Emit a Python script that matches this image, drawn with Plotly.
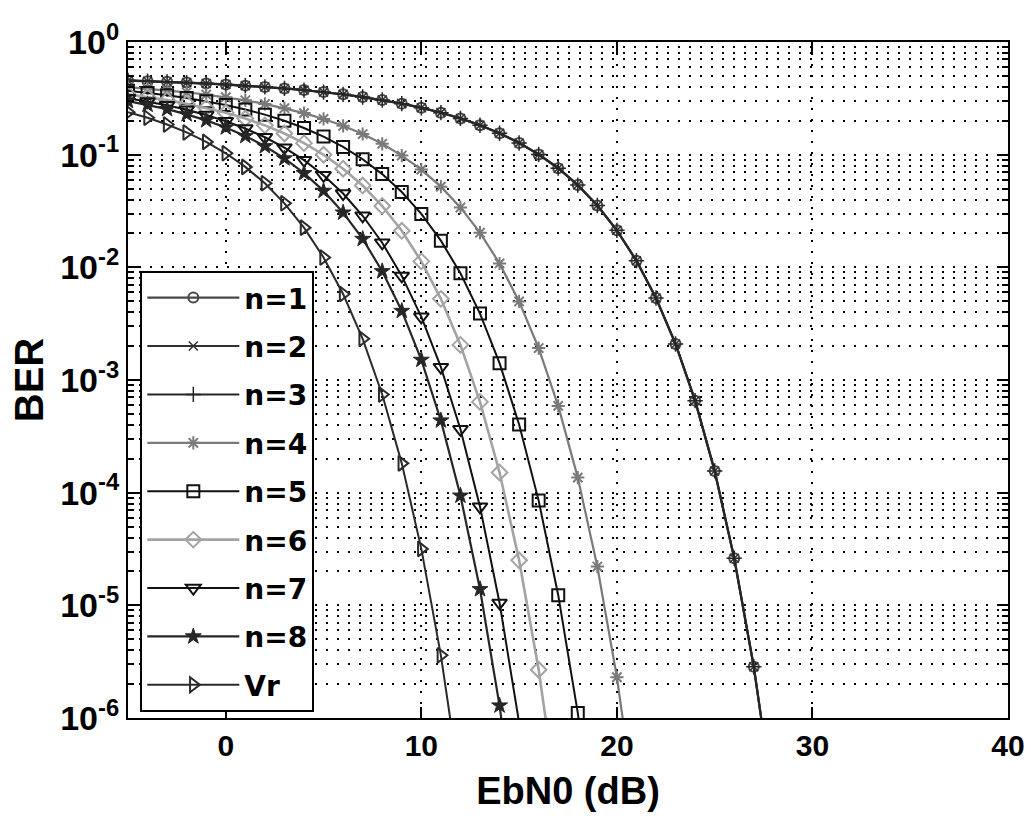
import plotly.graph_objects as go

# ---- data ----
EBN0_DB = [-5, -4, -3, -2, -1, 0, 1, 2, 3, 4, 5, 6, 7, 8, 9, 10, 11, 12, 13, 14,
           15, 16, 17, 18, 19, 20, 21, 22, 23, 24, 25, 26, 27, 28]

BER_N1 = [0.4546, 0.4491, 0.4430, 0.4361, 0.4283, 0.4197, 0.4100, 0.3993, 0.3873, 0.3740,
          0.3592, 0.3429, 0.3250, 0.3053, 0.2838, 0.2607, 0.2360, 0.2098, 0.1826, 0.1548,
          0.1271, 0.1005, 0.0759, 0.0537, 0.0354, 0.0213, 0.01146, 0.00535, 0.00209, 6.56e-4,
          1.56e-4, 2.62e-5, 2.85e-6, 1.8e-7]
BER_N2 = [0.4546, 0.4491, 0.4430, 0.4361, 0.4283, 0.4197, 0.4100, 0.3993, 0.3873, 0.3740,
          0.3592, 0.3429, 0.3250, 0.3053, 0.2838, 0.2607, 0.2360, 0.2098, 0.1826, 0.1548,
          0.1271, 0.1005, 0.0759, 0.0537, 0.0354, 0.0213, 0.01146, 0.00535, 0.00209, 6.56e-4,
          1.56e-4, 2.62e-5, 2.85e-6, 1.8e-7]
BER_N3 = [0.4546, 0.4491, 0.4430, 0.4361, 0.4283, 0.4197, 0.4100, 0.3993, 0.3873, 0.3740,
          0.3592, 0.3429, 0.3250, 0.3053, 0.2838, 0.2607, 0.2360, 0.2098, 0.1826, 0.1548,
          0.1271, 0.1005, 0.0759, 0.0537, 0.0354, 0.0213, 0.01146, 0.00535, 0.00209, 6.56e-4,
          1.56e-4, 2.62e-5, 2.85e-6, 1.8e-7]
BER_N4 = [0.3983, 0.3863, 0.3728, 0.3579, 0.3415, 0.3234, 0.3035, 0.2820, 0.2587, 0.2338,
          0.2076, 0.1803, 0.1525, 0.1249, 0.0982, 0.0737, 0.0520, 0.0340, 0.0203, 0.01082,
          0.00498, 0.00192, 5.89e-4, 1.36e-4, 2.21e-5, 2.3e-6, 1.36e-7]
BER_N5 = [0.3688, 0.3535, 0.3366, 0.3180, 0.2977, 0.2757, 0.2519, 0.2266, 0.2000, 0.1725,
          0.1447, 0.1172, 0.0911, 0.0672, 0.0466, 0.0298, 0.01726, 0.00885, 0.00389, 0.00141,
          4.03e-4, 8.5e-5, 1.23e-5, 1.11e-6, 5.5e-8]
BER_N6 = [0.3426, 0.3246, 0.3048, 0.2834, 0.2602, 0.2355, 0.2093, 0.1820, 0.1542, 0.1265,
          0.0999, 0.0751, 0.0532, 0.0350, 0.0211, 0.01129, 0.00525, 0.00205, 6.39e-4, 1.51e-4,
          2.51e-5, 2.68e-6, 1.65e-7]
BER_N7 = [0.3166, 0.2963, 0.2740, 0.2502, 0.2247, 0.1981, 0.1706, 0.1427, 0.1154, 0.0894,
          0.0656, 0.0452, 0.0287, 0.01653, 0.00839, 0.00364, 0.00130, 3.65e-4, 7.5e-5, 1.05e-5,
          9.1e-7, 4.3e-8]
BER_N8 = [0.2989, 0.2770, 0.2533, 0.2280, 0.2016, 0.1741, 0.1463, 0.1188, 0.0926, 0.0685,
          0.0477, 0.0306, 0.01786, 0.00923, 0.00410, 0.00151, 4.37e-4, 9.4e-5, 1.39e-5, 1.29e-6,
          6.6e-8]
BER_VR = [0.2385, 0.2124, 0.1853, 0.1575, 0.1298, 0.1029, 0.0779, 0.0557, 0.0370, 0.0225,
          0.01224, 0.00580, 0.00232, 7.43e-4, 1.82e-4, 3.17e-5, 3.6e-6, 2.4e-7]

SERIES_NAMES = ["n=1", "n=2", "n=3", "n=4", "n=5", "n=6", "n=7", "n=8", "Vr"]
SERIES_DATA = [BER_N1, BER_N2, BER_N3, BER_N4, BER_N5, BER_N6, BER_N7, BER_N8, BER_VR]

X_TICKS = [0, 10, 20, 30, 40]
X_TICK_TEXT = ["0", "10", "20", "30", "40"]
Y_TICKS = [1e-6, 1e-5, 1e-4, 1e-3, 1e-2, 1e-1, 1]
Y_TICK_TEXT = ["10<sup>-6</sup>", "10<sup>-5</sup>", "10<sup>-4</sup>", "10<sup>-3</sup>",
               "10<sup>-2</sup>", "10<sup>-1</sup>", "10<sup>0</sup>"]
Y_MINOR = [m * 10.0 ** p for p in range(-6, 0) for m in range(2, 10)]

# ---- styles ----
STYLES = [
    dict(symbol="circle-open", size=10, color="#474747", lw=2.4, mlw=2.0),
    dict(symbol="x-thin-open", size=9, color="#303030", lw=2.0, mlw=1.5),
    dict(symbol="cross-thin-open", size=11, color="#262626", lw=2.0, mlw=1.5),
    dict(symbol="asterisk-open", size=11, color="#7a7a7a", lw=2.2, mlw=2.0),
    dict(symbol="square-open", size=12, color="#111111", lw=2.0, mlw=2.0),
    dict(symbol="diamond-open", size=12, color="#a3a3a3", lw=2.6, mlw=2.0),
    dict(symbol="triangle-down-open", size=13, color="#111111", lw=2.0, mlw=2.0),
    dict(symbol="star", size=12, color="#262626", lw=2.2, mlw=1.0),
    dict(symbol="triangle-right-open", size=13, color="#2a2a2a", lw=2.0, mlw=2.0),
]

FONT = "Liberation Sans, Arial, sans-serif"
LEG_FONT = "DejaVu Sans, Liberation Sans, sans-serif"
GRID_DASH = "2px,9px"

fig = go.Figure()
for name, ber, st in zip(SERIES_NAMES, SERIES_DATA, STYLES):
    fig.add_trace(go.Scatter(
        x=EBN0_DB[:len(ber)], y=ber, mode="lines+markers", name=name,
        legendgroup=name,
        line=dict(color=st["color"], width=st["lw"]),
        marker=dict(symbol=st["symbol"], size=st["size"], color=st["color"],
                    line=dict(color=st["color"], width=st["mlw"])),
    ))

fig.update_layout(
    width=1031, height=826,
    margin=dict(l=128, r=23, t=42, b=108, autoexpand=False),
    paper_bgcolor="white", plot_bgcolor="white",
    font=dict(family=FONT, color="black"),
    showlegend=True,
    legend=dict(
        x=0.014, y=0.009, xanchor="left", yanchor="bottom",
        bgcolor="white", bordercolor="black", borderwidth=2,
        font=dict(family=LEG_FONT, size=28, weight="bold", color="black"),
        itemwidth=92, traceorder="grouped", tracegroupgap=9,
    ),
)

fig.update_xaxes(
    range=[-5, 40], tickmode="array", tickvals=X_TICKS, ticktext=X_TICK_TEXT,
    showline=True, linecolor="black", linewidth=2, mirror="ticks",
    ticks="inside", ticklen=11, tickwidth=2, tickcolor="black",
    showgrid=True, gridcolor="black", griddash=GRID_DASH, gridwidth=2,
    zeroline=False,
    tickfont=dict(family=FONT, size=30, weight="bold", color="black"),
    title=dict(text="EbN0 (dB)", font=dict(family=FONT, size=38, weight="bold", color="black"),
               standoff=16),
)

fig.update_yaxes(
    type="log", range=[-6, 0], tickmode="array", tickvals=Y_TICKS, ticktext=Y_TICK_TEXT,
    showline=True, linecolor="black", linewidth=2, mirror="ticks",
    ticks="inside", ticklen=11, tickwidth=2, tickcolor="black",
    showgrid=True, gridcolor="black", griddash=GRID_DASH, gridwidth=2,
    zeroline=False,
    minor=dict(tickmode="array", tickvals=Y_MINOR, ticks="inside", ticklen=6,
               tickwidth=2, tickcolor="black", showgrid=True, gridcolor="black",
               griddash=GRID_DASH, gridwidth=2),
    tickfont=dict(family=FONT, size=34, weight="bold", color="black"),
    title=dict(text="BER", font=dict(family=FONT, size=40, weight="bold", color="black"),
               standoff=4),
)

fig.write_html("out.html")
